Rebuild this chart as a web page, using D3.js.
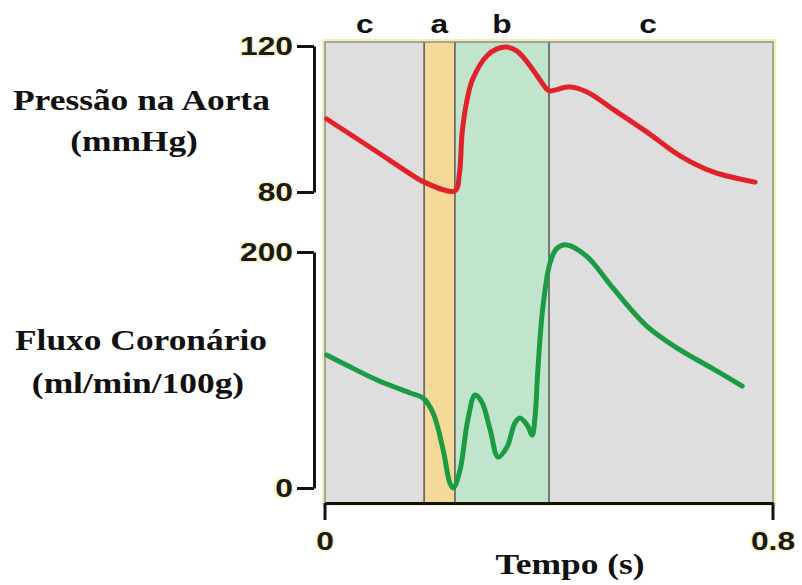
<!DOCTYPE html>
<html>
<head>
<meta charset="utf-8">
<script src="https://cdn.jsdelivr.net/npm/d3@7"></script>
<style>
  body { margin: 0; background: #fff; }
  svg { display: block; }
</style>
</head>
<body>
<div id="vis"></div>
<script>
// cardiac cycle phases (time in s)
const phaseNames = ["c", "a", "b", "c"];
const phaseStart = [0, 0.177, 0.232, 0.40];
const phaseEnd = [0.177, 0.232, 0.40, 0.8];
const phaseLabelAt = [0.071, 0.204, 0.316, 0.577];

// aortic pressure, mmHg
const pressureT = [0.003, 0.09, 0.157, 0.177, 0.232, 0.240, 0.245, 0.254, 0.264, 0.289, 0.307, 0.325, 0.343, 0.361, 0.379, 0.396, 0.402, 0.438, 0.468, 0.514, 0.575, 0.634, 0.693, 0.768];
const pressureV = [100, 91.3, 84.5, 82.7, 80.3, 85, 96.4, 105.5, 111, 117.3, 119.2, 119.7, 118.6, 115.6, 111.8, 108.2, 107.7, 108.8, 107.4, 102.7, 96.4, 89.9, 85.5, 82.7];

// coronary flow, ml/min/100g
const flowT = [0.003, 0.039, 0.093, 0.152, 0.175, 0.193, 0.211, 0.223, 0.229, 0.241, 0.255, 0.268, 0.280, 0.295, 0.309, 0.325, 0.339, 0.348, 0.361, 0.370, 0.375, 0.380, 0.389, 0.402, 0.414, 0.432, 0.468, 0.514, 0.575, 0.634, 0.693, 0.745];
const flowV = [112.7, 104, 91.5, 80.5, 76.3, 63.6, 32.2, 4.2, 0, 15, 57.6, 78.8, 72.9, 49.2, 26.3, 34.7, 55, 59.3, 53.4, 44.9, 60, 99.2, 153, 191, 203, 206, 196, 169.5, 137, 117, 101, 86.4];

const pressureTicks = [80, 120];
const flowTicks = [0, 200];
const timeTicks = [0, 0.8];

const width = 802;
const height = 585;

const phaseFill = { a: "#f5d998", b: "#c0e4cc", c: "#dedede" };

const sansStretch = 1.22;
const serifStretch = 1.18;

const x = d3.scaleLinear().domain([0, 0.8]).range([325, 773]);
const yP = d3.scaleLinear().domain([80, 120]).range([192, 46]);
const yF = d3.scaleLinear().domain([0, 200]).range([488, 252]);

const panelTop = 42;
const panelBottom = 503;

const svg = d3
  .select("#vis")
  .append("svg")
  .attr("width", width)
  .attr("height", height);

// yellowish halo round the panel
svg
  .append("rect")
  .attr("x", x(0) - 1)
  .attr("y", panelTop - 1)
  .attr("width", x(0.8) - x(0) + 2)
  .attr("height", panelBottom - panelTop + 2)
  .attr("fill", "none")
  .attr("stroke", "#f3eeb8")
  .attr("stroke-width", 4);

const phases = phaseNames.map((name, i) => ({
  name: name,
  start: phaseStart[i],
  end: phaseEnd[i],
  labelAt: phaseLabelAt[i],
}));

svg
  .selectAll(".phase")
  .data(phases)
  .enter()
  .append("rect")
  .attr("class", "phase")
  .attr("x", (d) => x(d.start))
  .attr("y", panelTop)
  .attr("width", (d) => x(d.end) - x(d.start))
  .attr("height", panelBottom - panelTop)
  .attr("fill", (d) => phaseFill[d.name]);

// separators between phases
svg
  .selectAll(".sep")
  .data(phaseStart.slice(1))
  .enter()
  .append("line")
  .attr("x1", (d) => x(d))
  .attr("x2", (d) => x(d))
  .attr("y1", panelTop)
  .attr("y2", panelBottom)
  .attr("stroke", "#5e5e58")
  .attr("stroke-width", 1.6);

svg
  .append("rect")
  .attr("x", x(0))
  .attr("y", panelTop)
  .attr("width", x(0.8) - x(0))
  .attr("height", panelBottom - panelTop)
  .attr("fill", "none")
  .attr("stroke", "#8a8a7c")
  .attr("stroke-width", 1.4);

// stretched text helper (the source picture is wider than tall)
function label(txt, px, py, opts) {
  const g = svg
    .append("g")
    .attr("transform", `translate(${px},${py}) scale(${opts.stretch},1)`);
  g.append("text")
    .attr("text-anchor", opts.anchor || "start")
    .attr("font-family", opts.family)
    .attr("font-weight", "bold")
    .attr("font-size", opts.size)
    .attr("fill", "#111")
    .text(txt);
}

phases.forEach((d) => {
  label(d.name, x(d.labelAt), 33, {
    family: "'Liberation Sans', Arial, sans-serif",
    size: 26,
    stretch: sansStretch,
    anchor: "middle",
  });
});

// lines
const pressure = pressureT.map((t, i) => ({ t: t, v: pressureV[i] }));
const flow = flowT.map((t, i) => ({ t: t, v: flowV[i] }));

svg
  .append("path")
  .datum(pressure)
  .attr("fill", "none")
  .attr("stroke", "#e1222a")
  .attr("stroke-width", 5)
  .attr("stroke-linejoin", "round")
  .attr("stroke-linecap", "round")
  .attr(
    "d",
    d3
      .line()
      .x((d) => x(d.t))
      .y((d) => yP(d.v))
      .curve(d3.curveCatmullRom.alpha(0.5))
  );

svg
  .append("path")
  .datum(flow)
  .attr("fill", "none")
  .attr("stroke", "#1c9b45")
  .attr("stroke-width", 5)
  .attr("stroke-linejoin", "round")
  .attr("stroke-linecap", "round")
  .attr(
    "d",
    d3
      .line()
      .x((d) => x(d.t))
      .y((d) => yF(d.v))
      .curve(d3.curveCatmullRom.alpha(0.5))
  );

// axes
function styleAxis(g, textOffsetX) {
  g.select(".domain").attr("stroke", "#111").attr("stroke-width", 3);
  g.selectAll(".tick line").attr("stroke", "#111").attr("stroke-width", 3);
  g.selectAll(".tick text")
    .attr("fill", "#1a1a1a")
    .attr("font-family", "'Liberation Sans', Arial, sans-serif")
    .attr("font-weight", "bold")
    .attr("font-size", 26)
    .attr("stroke", "#f7f3c4")
    .attr("stroke-width", 3)
    .attr("paint-order", "stroke")
    .attr("transform", `scale(${sansStretch},1)`);
  if (textOffsetX !== undefined) {
    g.selectAll(".tick text").attr("x", textOffsetX / sansStretch);
  }
}

const pAxis = svg
  .append("g")
  .attr("transform", "translate(314,0)")
  .call(
    d3.axisLeft(yP).tickValues(pressureTicks).tickSizeInner(17).tickSizeOuter(0).tickPadding(4)
  );
styleAxis(pAxis, -21);

const fAxis = svg
  .append("g")
  .attr("transform", "translate(314,0)")
  .call(
    d3.axisLeft(yF).tickValues(flowTicks).tickSizeInner(17).tickSizeOuter(0).tickPadding(4)
  );
styleAxis(fAxis, -21);

const tAxis = svg
  .append("g")
  .attr("transform", `translate(0,${panelBottom})`)
  .call(
    d3
      .axisBottom(x)
      .tickValues(timeTicks)
      .tickSizeInner(17)
      .tickSizeOuter(0)
      .tickPadding(12)
      .tickFormat((d) => (d === 0 ? "0" : d3.format(".1f")(d)))
  );
styleAxis(tAxis);
tAxis.selectAll(".tick").attr("transform", (d) => `translate(${x(d)},0)`);

// axis titles
const serif = "'Liberation Serif', 'Times New Roman', serif";
label("Pressão na Aorta", 13, 110, { family: serif, size: 30, stretch: serifStretch });
label("(mmHg)", 134, 151, { family: serif, size: 30, stretch: serifStretch, anchor: "middle" });
label("Fluxo Coronário", 15, 350, { family: serif, size: 30, stretch: serifStretch });
label("(ml/min/100g)", 138, 393, { family: serif, size: 30, stretch: serifStretch, anchor: "middle" });
label("Tempo (s)", 570, 574, { family: serif, size: 30, stretch: serifStretch, anchor: "middle" });
</script>
</body>
</html>
